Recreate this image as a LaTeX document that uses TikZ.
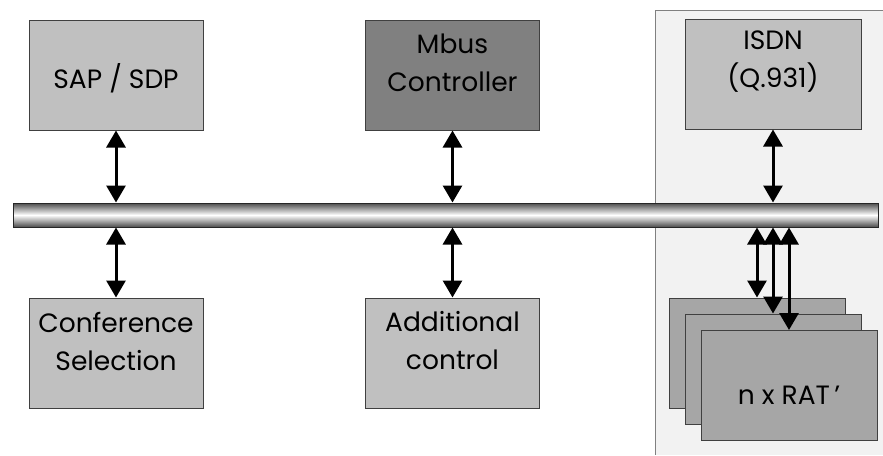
\documentclass[tikz,border=0pt]{standalone}
\usepackage{fontspec}
\setmainfont{Poppins}
\usetikzlibrary{arrows.meta, positioning}

\definecolor{boxgray}{RGB}{192,192,192}
\definecolor{darkbox}{RGB}{128,128,128}
\definecolor{ratgray}{RGB}{166,166,166}
\definecolor{panelbg}{RGB}{242,242,242}
\definecolor{edgegray}{RGB}{64,64,64}

\tikzset{
  box/.style={draw=edgegray, line width=1pt, fill=boxgray,
    minimum width=174pt, minimum height=110pt, inner sep=0pt},
  txt/.style={align=center, font=\fontsize{26.5}{38}\selectfont},
  link/.style={line width=3pt,
    {Triangle[width=19pt,length=17pt]}-{Triangle[width=19pt,length=17pt]}},
}

\begin{document}
\begin{tikzpicture}[x=1pt, y=-1pt]
\useasboundingbox (0,0) rectangle (883,455);

% background panel on the right
\fill[panelbg] (655,10) rectangle (883,455);
\draw[gray, line width=1pt] (883,10) -- (655,10) -- (655,455);

% the bus
\node[draw=black!85, line width=1pt, inner sep=0pt,
  minimum width=865pt, minimum height=24pt,
  top color=black!70, bottom color=black!70, middle color=white]
  (bus) at (445.5,215) {};

% upper row
\node[box] (sap) at (116,75) {};
\node[txt] (sap-t) at ([yshift=-3pt]sap.center) {SAP / SDP};
\node[box, fill=darkbox] (mbus) at (452.5,75) {};
\node[txt] (mbus-t) at ([yshift=12pt]mbus.center) {Mbus\\Controller};
\node[box, minimum width=176pt] (isdn) at (773,74) {};
\node[txt] (isdn-t) at ([yshift=12pt]isdn.center) {ISDN\\(Q.931)};

% lower row
\node[box] (conf) at (116,353) {};
\node[txt] (conf-t) at ([yshift=12pt]conf.center) {Conference\\Selection};
\node[box] (addctl) at (452.5,353) {};
\node[txt] (addctl-t) at ([yshift=12pt]addctl.center) {Additional\\control};

% stacked RAT boxes
\node[box, fill=ratgray, minimum width=176pt] (rat1) at (757,353) {};
\node[box, fill=ratgray, minimum width=176pt] (rat2) at (773,369) {};
\node[box, fill=ratgray, minimum width=176pt] (rat3) at (789,385.5) {};
\node[txt] (rat-t) at ([yshift=-10pt]rat3.center) {n x RAT\,’};

% connections to the bus
\draw[link] (sap.south) -- (sap.south |- bus.north);
\draw[link] (mbus.south) -- (mbus.south |- bus.north);
\draw[link] (isdn.south) -- (isdn.south |- bus.north);
\draw[link] (conf.north) -- (conf.north |- bus.south);
\draw[link] (addctl.north) -- (addctl.north |- bus.south);
\draw[link] (rat1.north) -- (rat1.north |- bus.south);
\draw[link] (rat2.north) -- (rat2.north |- bus.south);
\draw[link] (rat3.north) -- (rat3.north |- bus.south);
\end{tikzpicture}
\end{document}
